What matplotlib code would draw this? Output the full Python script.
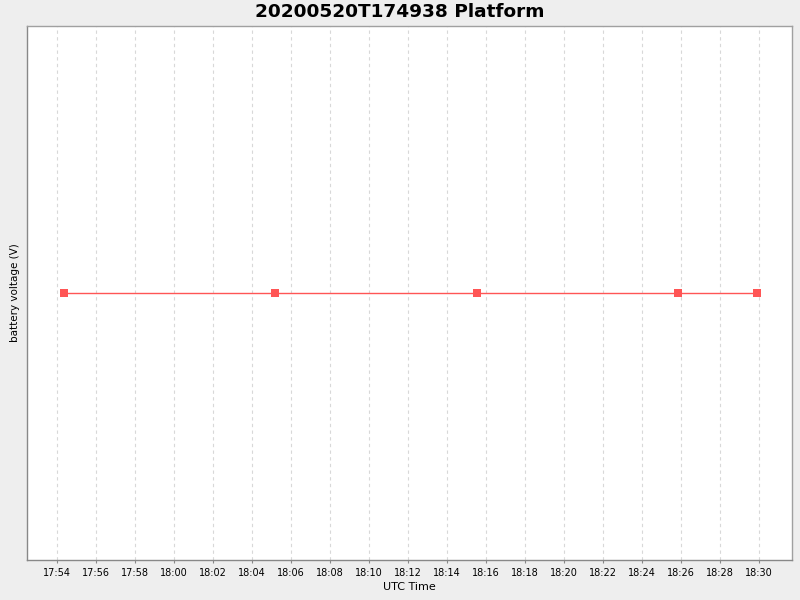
import numpy as np
import pandas as pd
import matplotlib
matplotlib.use("Agg")
import matplotlib.pyplot as plt
import matplotlib.dates as mdates

# data
times = ["2020-05-20 17:54:22", "2020-05-20 18:05:10", "2020-05-20 18:15:32",
         "2020-05-20 18:25:50", "2020-05-20 18:29:53"]
voltage = [12.0, 12.0, 12.0, 12.0, 12.0]

t = pd.to_datetime(times)

fig = plt.figure(figsize=(8, 6), dpi=100, facecolor="#EEEEEE")
ax = fig.add_axes([27 / 800, 40 / 600, 765 / 800, 534 / 600])
ax.set_facecolor("white")

ax.plot(t, voltage, color="#FF5555", linewidth=1, marker="s",
        markersize=6, markeredgewidth=0, zorder=3)

ax.set_xlim(pd.Timestamp("2020-05-20 17:52:29"), pd.Timestamp("2020-05-20 18:31:41"))
ax.set_ylim(11.0, 13.0)

ax.xaxis.set_major_locator(mdates.MinuteLocator(byminute=range(0, 60, 2)))
ax.xaxis.set_major_formatter(mdates.DateFormatter("%H:%M"))
ax.set_yticks([])

ax.grid(axis="x", color="#D8D8D8", linestyle=(0, (3, 3)), linewidth=0.8)
ax.tick_params(axis="x", labelsize=7, length=2, color="#888888", pad=4)

for s in ax.spines.values():
    s.set_color("#A0A0A0")
    s.set_linewidth(1)
ax.spines["left"].set_color("#888888")
ax.spines["bottom"].set_color("#888888")

# title is centred on the whole figure, not on the plot area
fig.text(0.5, 1 - 12 / 600, "20200520T174938 Platform", fontsize=13.3,
         fontweight="bold", ha="center", va="center")
ax.set_xlabel("UTC Time", fontsize=8, labelpad=3)
ax.set_ylabel("battery voltage (V)", fontsize=7.5, labelpad=5)

fig.savefig("out.png", dpi=100, facecolor=fig.get_facecolor())
